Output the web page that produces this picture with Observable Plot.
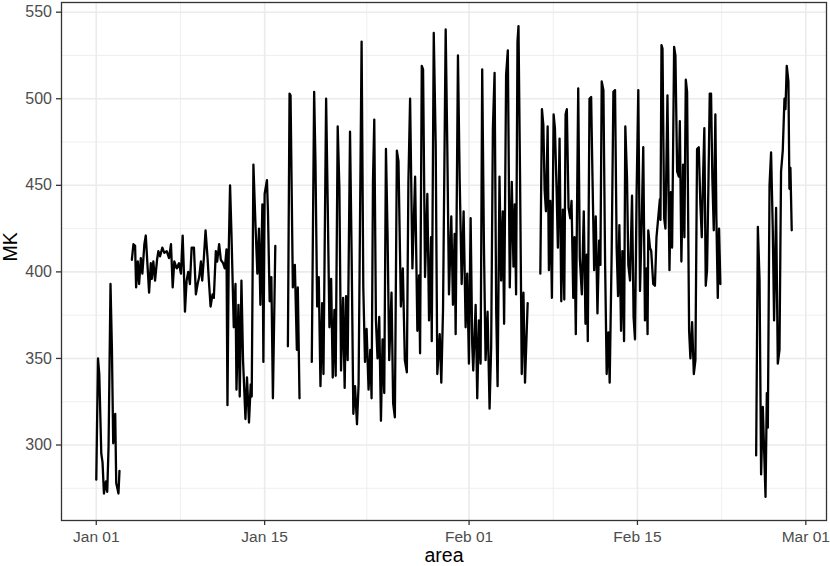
<!DOCTYPE html>
<html>
<head>
<meta charset="utf-8">
<script src="https://cdn.jsdelivr.net/npm/d3@7"></script>
<script src="https://cdn.jsdelivr.net/npm/@observablehq/plot@0.6"></script>
<style>
  html, body { margin: 0; padding: 0; background: #ffffff; }
  #chart { width: 830px; height: 566px; }
</style>
</head>
<body>
<div id="chart"></div>
<script>
// Hours since 2023-01-01 00:00 UTC; null in mk marks a gap in the record
const hours = [
  0, 3.4, 6, 10, 12.5, 15.3, 19.3, 21.9, 24.5, 28.4, 31.2, 33.8, 37.8, 39.8, 44.3, 46.3,
  58,
  71, 74.2, 77.5, 79.5, 82.9, 85.5, 88.9, 92, 96, 98.8, 102, 105.4, 108.8, 110.8, 113.9, 117.3,
  121.3, 123.9, 127.3, 131.8, 135.8, 140.6, 145.2, 149.1, 152.5, 155.7, 160.5, 165, 169, 172.4,
  175, 177, 180.3, 183.5, 186.9, 190.3, 194.9, 198.8, 202.2, 205.4, 208.8, 211.4, 214.7, 218.1,
  222.1, 224.7, 228.1, 232, 234.6, 238.6, 241.2, 245.2, 248.6, 253.1, 256.5, 259.9, 261.8, 264.5,
  267, 269.8, 274.4, 277.8, 279.8, 283.7, 286.3, 289.7, 292.9, 297.7, 300.8, 304.8, 308.2, 310.2,
  313.6, 317.5, 321.5, 324.7, 327.5, 331.5, 333.5, 336, 340.6, 342.6, 346, 349.4, 352.5, 357.3,
  370,
  382.4, 385.7, 387.7, 392.3, 396.3, 400.3, 402.2, 405.6,
  418,
  430.1, 434.8, 437.4, 440.8, 444, 447.4, 450.8, 453.4, 458.7, 461.9, 465.3, 468.7, 471.9, 475.2,
  477.8, 481.8, 485.2, 488.5, 492.5, 495.7, 498.5, 501.7, 506.4, 509.6, 513, 516.4, 520.3, 523.5,
  529.5, 532.9, 536.3, 539.5, 543.4, 546.8, 549.4, 552.2, 554.8, 558.1, 561.3, 564.7, 568.1, 571.3,
  574.7, 578.1, 581.3, 584.6, 589.2, 592.5, 595.9, 599.9, 603.1, 607.9, 611.8, 615.8, 619.8, 622.9,
  626.3, 630.9, 636.3, 640.8, 644.2, 646.2, 649.6, 652.2, 656.1, 660.7, 664.1, 668.1, 669.5, 673.5,
  677.4, 680.6, 685.4, 688.6, 692, 697.3, 700.5, 703.9, 708.5, 711.8, 715.2, 717.2, 721.8, 725.2,
  729.2, 733.1, 737.1, 740.3, 743.7, 747.1, 750.3, 752.3, 757.1, 760.3, 763.6, 767, 770.2, 773.6,
  776.9, 780.9, 784.9, 788.1, 791.5, 794.9, 798.1, 800.9, 804.7, 808, 811.3, 813.9, 817.9, 821.3,
  825.2, 829.2, 832.6, 835.2, 837.8, 840.6, 842.6, 845.7, 849.1, 852.5, 855.6, 860.9,
  873,
  886.2, 889.4, 892.2, 894.8, 897.4, 900.8, 903.3, 906.2, 909.3, 912.7, 915.3, 918.7, 921.2, 924.6,
  928, 931.2, 934, 936.6, 939.1, 942.5, 945.9, 948.5, 951.9, 954.4, 957, 961.8, 965, 969, 972.9,
  976.3, 978.9, 980.9, 984.3, 987.6, 990.2, 993.6, 996.8, 1000.2, 1003.5, 1006.1, 1008.7, 1012.1,
  1015.5, 1018.6, 1022, 1024.6, 1028.6, 1032, 1035.3, 1038.5, 1041.3, 1043.9, 1047.3, 1049.9,
  1053.3, 1055.8, 1059.2, 1061.8, 1065.2, 1069.2, 1072.3, 1075.1, 1078.3, 1081.7, 1085.1, 1088.3,
  1091.6, 1095, 1098.2, 1100.2, 1101.6, 1105, 1107.5, 1111.5, 1114.9, 1118, 1121.4, 1124.8, 1126,
  1128, 1130, 1133.3, 1135.9, 1139.9, 1143.9, 1146.6, 1149.2, 1153.2, 1155.8, 1159.2, 1162.6,
  1164.6, 1167.7, 1171.1, 1173.7, 1176.5, 1179.1, 1183.1, 1185.7, 1189.1, 1192.5, 1195.7, 1199,
  1202.4, 1205.6, 1208.4, 1210.9, 1213.5, 1216.3, 1218.9, 1221.5, 1224.3, 1226.9, 1229.5, 1232.3,
  1235.5, 1237.5, 1240.3, 1242.9, 1245.5,
  1280,
  1316.9, 1320.3, 1323.7, 1326.8, 1330.2, 1332.8, 1335.6, 1338.2, 1340.2, 1343.6, 1346.7, 1350.1,
  1352.7, 1356.7, 1360.1, 1363.5, 1366.6, 1370, 1373.4, 1375.4, 1378, 1381.3, 1383.3, 1385.3, 1387.9
];
const mk = [
  280, 350, 341, 295, 290, 272, 279, 273, 299, 393, 356, 301, 318, 278, 272, 285,
  null,
  407, 416, 415, 391, 406, 393, 408, 399, 416, 421, 405, 388, 405, 396, 406, 395,
  407, 412, 409, 414, 411, 412, 408, 416, 391, 406, 402, 405, 399, 421,
  399, 377, 395, 400, 393, 414, 414, 387, 393, 397, 406, 395, 408, 424,
  408, 395, 380, 387, 385, 412, 406, 416, 407, 405, 402, 413, 323, 414,
  450, 422, 368, 393, 332, 381, 328, 395, 349, 315, 339, 313, 335, 328,
  462, 429, 399, 425, 381, 439, 348, 445, 453, 435, 383, 397, 327, 415,
  null,
  357, 503, 502, 391, 404, 355, 391, 327,
  null,
  348, 504, 464, 380, 397, 334, 382, 341, 500, 439, 368, 396, 339, 378,
  340, 484, 448, 343, 385, 333, 386, 349, 481, 410, 318, 334, 312, 335,
  533, 391, 348, 367, 332, 355, 327, 452, 488, 372, 350, 374, 314, 361,
  330, 471, 422, 349, 388, 324, 316, 470, 464, 380, 402, 349, 342, 452,
  500, 402, 455, 366, 398, 353, 519, 517, 397, 445, 372, 420, 360, 538,
  473, 341, 364, 336, 378, 540, 473, 387, 432, 381, 422, 364, 525, 454,
  393, 435, 368, 399, 347, 431, 358, 343, 381, 327, 372, 347, 517, 416,
  349, 377, 321, 357, 483, 515, 378, 334, 455, 395, 435, 370, 514, 528,
  391, 452, 403, 439, 387, 533, 542, 456, 341, 388, 336, 382,
  null,
  399, 494, 485, 447, 435, 484, 401, 441, 385, 491, 483, 447, 414, 477,
  383, 436, 384, 491, 494, 437, 431, 441, 385, 420, 364, 506, 408, 387, 435,
  370, 410, 360, 500, 501, 456, 401, 432, 376, 418, 404, 510, 505,
  404, 341, 365, 336, 412, 504, 505, 414, 386, 427, 366, 412,
  360, 484, 454, 404, 395, 444, 374, 361, 445, 505, 389, 426,
  472, 372, 402, 364, 424, 414, 412, 393, 392, 420, 431, 442, 430,
  531, 529, 431, 425, 502, 401, 446, 414, 530, 525, 458, 455,
  487, 406, 462, 420, 511, 504, 366, 350, 371, 341, 349, 471,
  472, 439, 420, 454, 483, 392, 401, 448, 503, 503, 454, 424,
  491, 432, 385, 425, 393,
  null,
  294, 426, 395, 283, 322, 297, 270, 330, 310, 450, 469, 424,
  372, 437, 347, 355, 458, 470, 500, 494, 519, 510, 448, 460, 424
];

const startUTC = Date.UTC(2023, 0, 1);
const majorXDays = ["2023-01-01", "2023-01-15", "2023-02-01", "2023-02-15", "2023-03-01"];
const minorXDays = ["2023-01-08", "2023-01-23T12:00", "2023-02-08", "2023-02-22"];
const majorY = [300, 350, 400, 450, 500, 550];
const minorY = [275, 325, 375, 425, 475, 525];
const xTitle = "area";
const yTitle = "MK";

const toDate = s => new Date(s + (s.includes("T") ? ":00Z" : "T00:00:00Z"));
const majorX = majorXDays.map(toDate);
const minorX = minorXDays.map(toDate);

const data = hours.map((h, i) => ({ date: new Date(startUTC + h * 3600e3), mk: mk[i] }));

// ggplot-style 5% expansion of the data range
const valid = data.filter(d => d.mk != null);
const [t0, t1] = d3.extent(valid, d => +d.date);
const [v0, v1] = d3.extent(valid, d => d.mk);
const ex = (t1 - t0) * 0.05, ey = (v1 - v0) * 0.05;

const fmt = d3.utcFormat("%b %d");
const gridCol = "#ebebeb";

const chart = Plot.plot({
  width: 830,
  height: 566,
  marginTop: 2,
  marginRight: 4,
  marginBottom: 46,
  marginLeft: 61,
  style: { fontFamily: "'Liberation Sans', Arial, Helvetica, sans-serif", background: "#ffffff", overflow: "visible" },
  x: { type: "utc", domain: [new Date(t0 - ex), new Date(t1 + ex)] },
  y: { domain: [v0 - ey, v1 + ey] },
  marks: [
    Plot.gridX(minorX, { stroke: gridCol, strokeOpacity: 1, strokeWidth: 0.8 }),
    Plot.gridY(minorY, { stroke: gridCol, strokeOpacity: 1, strokeWidth: 0.8 }),
    Plot.gridX(majorX, { stroke: gridCol, strokeOpacity: 1, strokeWidth: 1.6 }),
    Plot.gridY(majorY, { stroke: gridCol, strokeOpacity: 1, strokeWidth: 1.6 }),
    Plot.line(data, { x: "date", y: "mk", stroke: "#000000", strokeWidth: 2.3, strokeLinejoin: "round" }),
    Plot.frame({ stroke: "#333333", strokeWidth: 1.3 }),
    Plot.axisX(majorX, { tickFormat: fmt, fontSize: 15.5, tickSize: 5, tickPadding: 5, stroke: "#333333", strokeWidth: 1.3, fill: "#4d4d4d", label: null }),
    Plot.axisY(majorY, { fontSize: 16, tickSize: 5, tickPadding: 4.5, stroke: "#333333", strokeWidth: 1.3, fill: "#4d4d4d", label: null }),
    Plot.text([xTitle], { frameAnchor: "bottom", lineAnchor: "middle", dy: 35, fontSize: 19.5, fill: "#000000" }),
    Plot.text([yTitle], { frameAnchor: "left", lineAnchor: "middle", dx: -51, rotate: -90, fontSize: 19.5, fill: "#000000" })
  ]
});
document.getElementById("chart").appendChild(chart);
</script>
</body>
</html>
